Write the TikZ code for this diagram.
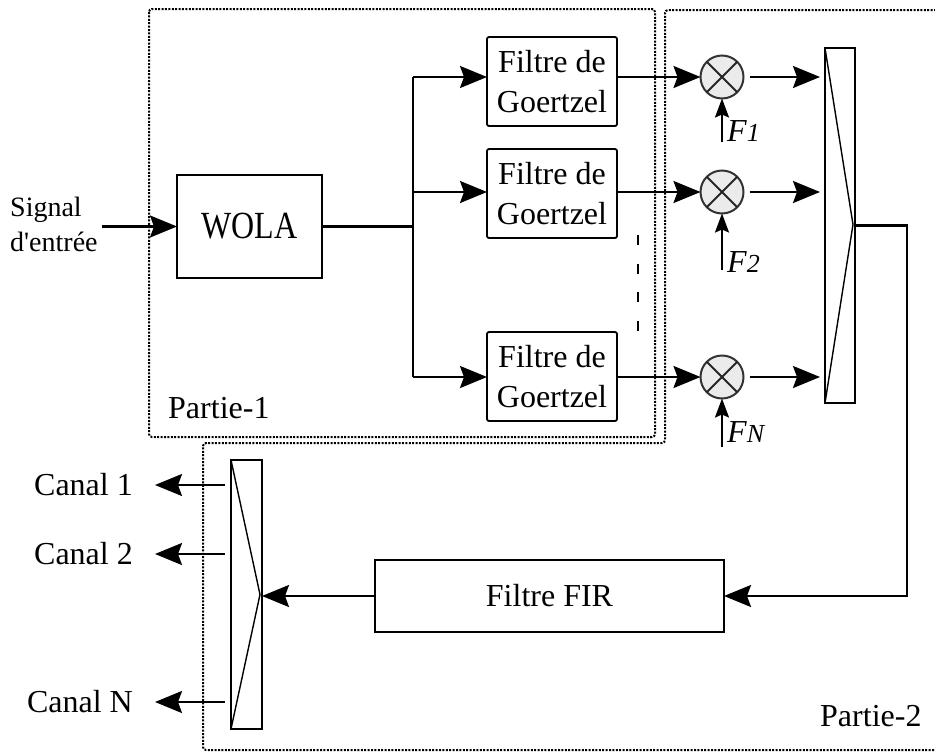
\documentclass[tikz,border=0pt]{standalone}
\usepackage{fontspec}
\setmainfont{Liberation Serif}
\newfontfamily\plainserif{Liberation Serif}
\usetikzlibrary{arrows.meta,calc}
\begin{document}
\begin{tikzpicture}[x=1pt,y=-1pt,
  box/.style={draw, line width=1.8pt, inner sep=0pt, outer sep=0pt, align=center, font=\fontsize{32}{40}\selectfont},
  gbox/.style={box, minimum width=130pt, minimum height=89pt, rounded corners=2pt},
  rbar/.style={draw, line width=1.8pt, inner sep=0pt, outer sep=0pt},
  wire/.style={line width=2.2pt},
  arr/.style={wire, -{Stealth[length=27pt,width=22pt,inset=4pt]}},
  farr/.style={wire, -{Stealth[length=19pt,width=14pt,inset=3pt]}},
  mult/.style={circle, draw=black!80, fill=black!8, line width=2pt, minimum size=43pt, inner sep=0pt, outer sep=0pt},
  part/.style={line width=2pt, dash pattern=on 2pt off 1.4pt, rounded corners=3pt},
  lbl/.style={inner sep=0pt, font=\fontsize{32}{40}\selectfont},
  flbl/.style={inner sep=0pt, font=\fontsize{32}{32}\selectfont\itshape, anchor=base west}
]
\useasboundingbox (0,0) rectangle (935,753);

% frames
\draw[part] (149,9) rectangle (655,437);
\draw[part] (936,10) -- (665,10) -- (665,443) -- (203,443) -- (203,750) -- (936,750);

% input
\node[inner sep=0pt, anchor=west, align=left, font=\fontsize{28}{35}\selectfont] (sig) at (10,224) {Signal\\d{\plainserif'}entrée};
\node[box, minimum width=145pt, minimum height=103pt] (wola) at (249.5,226.5) {\scalebox{1}[1.2]{WOLA}};
\draw[arr] ([xshift=4pt]wola.west -| sig.east) -- (wola.west);

% Goertzel filters
\node[gbox] (g1) at (552,81.5) {Filtre de\\Goertzel};
\node[gbox] (g2) at (552,193.5) {Filtre de\\Goertzel};
\node[gbox] (g3) at (552,376.5) {Filtre de\\Goertzel};

% multipliers
\node[mult] (m1) at (722,77) {};
\node[mult] (m2) at (722,192) {};
\node[mult] (m3) at (722,377) {};
\foreach \m in {m1,m2,m3}{
  \draw[line width=2pt, black!85] (\m.north west) -- (\m.south east);
  \draw[line width=2pt, black!85] (\m.north east) -- (\m.south west);
}

% branch
\coordinate (br) at (413,226.5);
\draw[wire] (wola.east) -- (br);
\draw[wire] (br |- m1) -- (br |- m3);
\draw[arr] (br |- m1) -- (g1.west |- m1);
\draw[arr] (br |- m2) -- (g2.west |- m2);
\draw[arr] (br |- m3) -- (g3.west |- m3);

\draw[arr] (g1.east |- m1) -- (m1.west);
\draw[arr] (g2.east |- m2) -- (m2.west);
\draw[arr] (g3.east |- m3) -- (m3.west);

% dots between filters
\draw[line width=2.2pt, dash pattern=on 10pt off 18.5pt] (638,235) -- (638,332);

% F inputs
\coordinate (f1) at (722,142);
\coordinate (f2) at (722,270);
\coordinate (f3) at (722,447);
\draw[farr] (f1) -- (m1.south);
\draw[farr] (f2) -- (m2.south);
\draw[farr] (f3) -- (m3.south);
\node[flbl] (lf1) at (727,141) {F{\fontsize{26}{26}\selectfont 1}};
\node[flbl] (lf2) at (727,272) {F{\fontsize{26}{26}\selectfont 2}};
\node[flbl] (lf3) at (727,442) {F{\fontsize{26}{26}\selectfont N}};

% mux
\node[rbar, minimum width=30pt, minimum height=355pt] (mux) at (840,225.5) {};
\draw[line width=1.4pt] (mux.north west) -- ($(mux.east)+(-2,-1)$) -- (mux.south west);
\draw[arr, shorten >=5pt] ([xshift=6pt]m1.east) -- (mux.west |- m1);
\draw[arr, shorten >=5pt] ([xshift=6pt]m2.east) -- (mux.west |- m2);
\draw[arr, shorten >=5pt] ([xshift=6pt]m3.east) -- (mux.west |- m3);

% FIR
\node[box, minimum width=349pt, minimum height=72pt] (fir) at (549.5,596) {Filtre FIR};
\coordinate (turn) at (907,596);
\draw[arr] (mux.east) -| (turn) -- (fir.east);

% demux
\node[rbar, minimum width=31pt, minimum height=269pt] (dmx) at (246.5,594.5) {};
\draw[line width=1.4pt] (dmx.north west) -- ($(dmx.east)+(-2,0)$) -- (dmx.south west);
\draw[arr] (fir.west) -- (dmx.east |- fir.west);

% outputs
\node[lbl, anchor=east] (c1) at (133,485) {Canal 1};
\node[lbl, anchor=east] (c2) at (133,554) {Canal 2};
\node[lbl, anchor=east] (c3) at (133,702) {Canal N};
\draw[arr] ([xshift=-6pt]dmx.west |- c1) -- ([xshift=22pt]c1.east);
\draw[arr] ([xshift=-6pt]dmx.west |- c2) -- ([xshift=22pt]c2.east);
\draw[arr] ([xshift=-6pt]dmx.west |- c3) -- ([xshift=22pt]c3.east);

% part labels
\node[lbl, anchor=west] (p1) at (168,408) {Partie-1};
\node[lbl, anchor=west] (p2) at (820,716) {Partie-2};
\end{tikzpicture}
\end{document}
